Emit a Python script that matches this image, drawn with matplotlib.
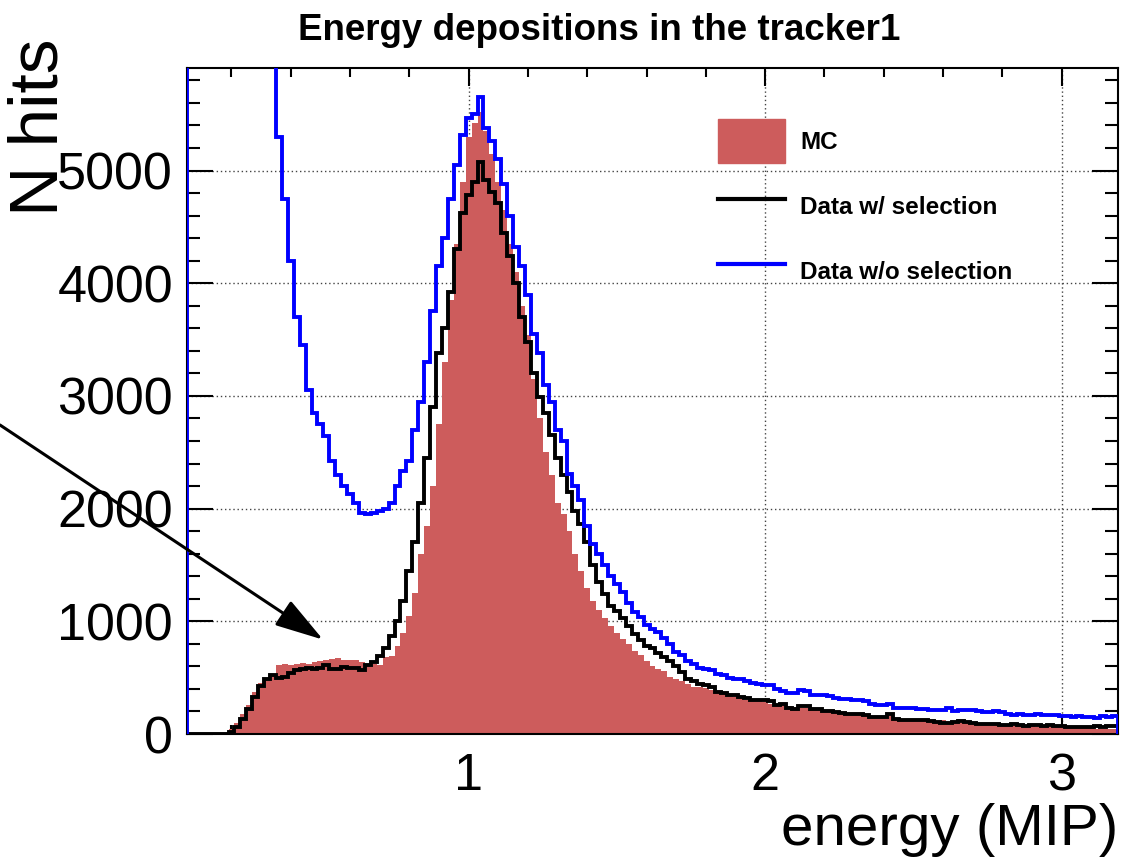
import numpy as np
import matplotlib
matplotlib.use("Agg")
import matplotlib.pyplot as plt
from matplotlib.ticker import MultipleLocator
from matplotlib.patches import Patch
from matplotlib.lines import Line2D

plt.rcParams['font.family'] = ['Liberation Sans', 'DejaVu Sans']

# bins: 0.02 MIP wide, 0.05 .. 3.19
edges = np.round(np.arange(0.05, 3.19 + 1e-9, 0.02), 3)

# MC (filled)
mc = [0, 0, 0, 0, 0, 0, 10, 40, 100, 180,
      260, 370, 450, 500, 530, 610, 625, 615, 620, 630,
      625, 640, 650, 660, 665, 670, 660, 660, 655, 640,
      625, 620, 615, 680, 690, 780, 900, 1050, 1250, 1600,
      1850, 2200, 2750, 3300, 3850, 4350, 4900, 5300, 5420, 5520,
      5350, 5150, 4900, 4650, 4350, 4100, 3800, 3540, 3150, 2800,
      2500, 2300, 2050, 1950, 1800, 1600, 1450, 1300, 1180, 1100,
      1030, 960, 900, 840, 800, 740, 700, 650, 600, 580,
      560, 510, 490, 470, 440, 420, 415, 405, 390, 360,
      355, 350, 330, 320, 305, 300, 290, 280, 265, 255,
      255, 250, 240, 235, 230, 225, 220, 210, 205, 200,
      195, 185, 175, 170, 165, 160, 160, 150, 160, 140,
      135, 130, 125, 120, 125, 115, 110, 120, 105, 100,
      100, 95, 95, 90, 90, 85, 85, 80, 80, 75,
      75, 70, 70, 65, 65, 60, 60, 60, 55, 55,
      55, 50, 50, 45, 45, 45, 45]

# data with selection (black)
data_sel = [0, 0, 0, 0, 0, 0, 0, 20, 60, 130,
            220, 330, 430, 490, 520, 500, 510, 540, 570, 580,
            585, 580, 585, 610, 575, 580, 595, 590, 585, 570,
            610, 640, 690, 760, 870, 1000, 1180, 1450, 1700, 2050,
            2450, 2900, 3380, 3600, 3920, 4300, 4620, 4780, 4900, 5080,
            4920, 4810, 4710, 4450, 4240, 4000, 3700, 3480, 3200, 2990,
            2850, 2650, 2450, 2300, 2150, 1980, 1860, 1700, 1500, 1350,
            1240, 1140, 1090, 1030, 960, 890, 830, 780, 760, 720,
            685, 650, 600, 550, 490, 470, 440, 435, 420, 370,
            360, 345, 345, 330, 320, 300, 300, 300, 290, 260,
            270, 230, 225, 250, 245, 220, 220, 205, 200, 195,
            190, 180, 180, 175, 165, 155, 150, 150, 175, 130,
            125, 125, 120, 125, 120, 115, 105, 100, 100, 110,
            115, 110, 95, 90, 90, 85, 85, 80, 80, 85,
            80, 75, 80, 80, 75, 80, 70, 70, 65, 60,
            65, 65, 60, 70, 65, 70, 70]

# data without selection (blue)
data_nosel = [14000, 13000, 12000, 11000, 10500, 10000, 9500, 9000, 8600, 8200,
              7800, 7400, 7000, 6600, 6200, 5300, 4750, 4200, 3700, 3450,
              3050, 2850, 2750, 2645, 2420, 2300, 2200, 2130, 2050, 1960,
              1950, 1960, 1980, 2000, 2050, 2200, 2330, 2420, 2700, 2950,
              3300, 3750, 4150, 4400, 4750, 5050, 5315, 5470, 5500, 5650,
              5380, 5260, 5100, 4880, 4600, 4320, 4150, 3900, 3550, 3380,
              3100, 2950, 2700, 2600, 2310, 2200, 2080, 1850, 1690, 1600,
              1500, 1400, 1330, 1260, 1160, 1080, 1040, 970, 930, 905,
              850, 800, 730, 700, 645, 620, 590, 580, 570, 530,
              520, 495, 490, 490, 470, 450, 445, 435, 435, 400,
              380, 360, 360, 390, 380, 345, 345, 350, 340, 320,
              310, 310, 305, 300, 295, 270, 260, 255, 265, 235,
              230, 230, 235, 225, 225, 210, 215, 210, 230, 205,
              210, 210, 215, 200, 195, 195, 200, 195, 175, 170,
              175, 170, 170, 175, 170, 165, 170, 160, 160, 155,
              160, 150, 150, 140, 160, 155, 160]

fig = plt.figure(figsize=(11.21, 8.64), dpi=100)
ax = fig.add_axes([187/1121, 1-734/864, (1118-187)/1121, (734-68)/864])

red = '#CD5C5C'
ax.stairs(mc, edges, fill=True, color=red, lw=0)
ax.stairs(data_sel, edges, color='black', lw=2.8)
ax.stairs(data_nosel, edges, color='#0000FF', lw=2.8, zorder=3)

ax.set_xlim(0.05, 3.19)
ax.set_ylim(0, 5910)

ax.xaxis.set_major_locator(MultipleLocator(1))
ax.xaxis.set_minor_locator(MultipleLocator(0.2))
ax.yaxis.set_major_locator(MultipleLocator(1000))
ax.yaxis.set_minor_locator(MultipleLocator(200))
ax.tick_params(which='both', direction='in', top=True, right=True, width=1.5)
ax.tick_params(axis='x', which='major', length=13, labelsize=37.5, pad=13)
ax.tick_params(axis='x', which='minor', length=6.5)
ax.tick_params(axis='y', which='major', length=19, labelsize=37.5, pad=10)
ax.tick_params(axis='y', which='minor', length=9.5)
for s in ax.spines.values():
    s.set_linewidth(1.5)

ax.set_axisbelow(True)
ax.grid(True, which='major', linestyle=(0, (1, 2)), color='#444444', lw=1.0)

# titles
fig.text(599/1121, 1-30/864, 'Energy depositions in the tracker1',
         ha='center', va='center', fontsize=26.5, fontweight='bold')
fig.text(1118/1121, 1-830/864, 'energy (MIP)', ha='right', va='center', fontsize=42)
fig.text(8/1121, 1-38/864, 'N hits', rotation=90, ha='left', va='top', fontsize=50)

# legend
handles = [Patch(facecolor=red, edgecolor=red),
           Line2D([], [], color='black', lw=3),
           Line2D([], [], color='#0000FF', lw=3)]
labels = ['MC', 'Data w/ selection', 'Data w/o selection']
ax.legend(handles, labels, loc='upper left', frameon=False,
          bbox_to_anchor=(718/1121, 1-119/864), bbox_transform=fig.transFigure,
          borderpad=0, borderaxespad=0, handlelength=2.75, handleheight=2.43,
          labelspacing=0.85, handletextpad=0.64,
          prop={'weight': 'bold', 'size': 17.5})

# arrow pointing to the low-energy shoulder
ax.annotate('', xy=(0.509, 837), xycoords='data',
            xytext=(0.0, 1-425/864), textcoords='figure fraction',
            arrowprops=dict(arrowstyle='-|>,head_length=2.0,head_width=0.6',
                            mutation_scale=15, lw=2.2, color='black',
                            shrinkA=0, shrinkB=0),
            annotation_clip=False)

fig.savefig('out.png', dpi=100)
